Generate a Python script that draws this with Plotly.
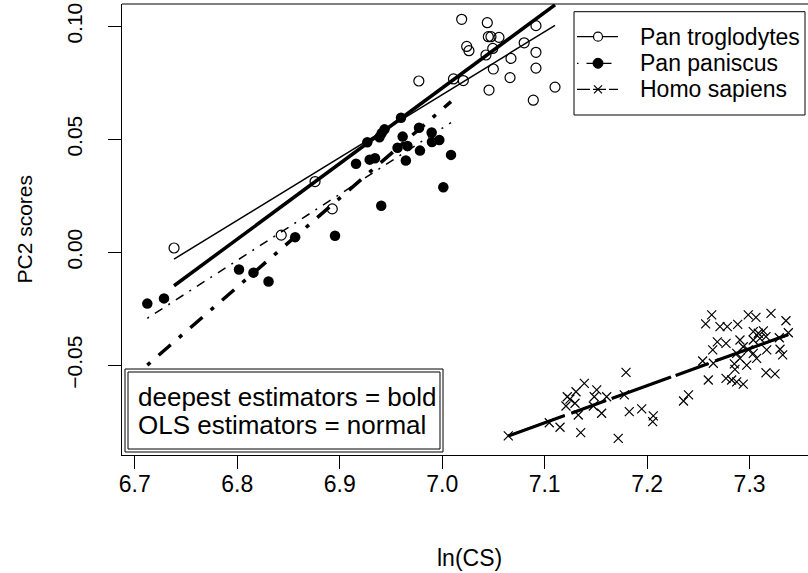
import plotly.graph_objects as go

# ---------------- data ----------------
trog_x = [6.7383, 6.8429, 6.8759, 6.8927, 6.9772, 7.0110, 7.0190, 7.0440, 7.0915,
          7.0450, 7.0476, 7.0554, 7.0239, 7.0261, 7.0493, 7.0800, 7.0427, 7.0915,
          7.0671, 7.0206, 7.0499, 7.0915, 7.0662, 7.0457, 7.1101, 7.0889]
trog_y = [0.0019, 0.0076, 0.0313, 0.0192, 0.0758, 0.0767, 0.1031, 0.1016, 0.1003,
          0.0954, 0.0954, 0.0951, 0.0911, 0.0892, 0.0902, 0.0927, 0.0873, 0.0885,
          0.0858, 0.0760, 0.0811, 0.0815, 0.0773, 0.0718, 0.0731, 0.0673]

pan_x = [6.7122, 6.7285, 6.8017, 6.8158, 6.8305, 6.8565, 6.8954, 6.9405, 6.9159,
         6.9292, 6.9344, 6.9269, 6.9388, 6.9409, 6.9437, 6.9598, 6.9614, 6.9564,
         6.9661, 6.9645, 6.9774, 6.9783, 6.9897, 6.9900, 6.9972, 7.0086, 7.0011]
pan_y = [-0.0227, -0.0204, -0.0076, -0.0090, -0.0129, 0.0067, 0.0073, 0.0206, 0.0392,
         0.0410, 0.0416, 0.0487, 0.0509, 0.0527, 0.0544, 0.0595, 0.0512, 0.0463,
         0.0470, 0.0406, 0.0551, 0.0450, 0.0530, 0.0488, 0.0497, 0.0431, 0.0288]

homo_x = [7.0645, 7.1045, 7.1150, 7.1352, 7.1718, 7.1794, 7.1387, 7.1306, 7.1221,
          7.1247, 7.1208, 7.1296, 7.1328, 7.1508, 7.1484, 7.1605, 7.1475, 7.1556,
          7.1777, 7.1826, 7.1947, 7.2060, 7.2054, 7.2355, 7.2404,
          7.2597, 7.2542, 7.2646, 7.2630, 7.2571, 7.2711, 7.2782, 7.2884, 7.2987,
          7.3062, 7.3209, 7.3355, 7.3378, 7.3290, 7.2685, 7.2770, 7.2640, 7.2906,
          7.2938, 7.3036, 7.3085, 7.3134, 7.3160, 7.3036, 7.3101, 7.3167, 7.2987,
          7.3036, 7.2874, 7.2906, 7.2851, 7.2972, 7.3069, 7.3297, 7.3323, 7.2857,
          7.2770, 7.2825, 7.2874, 7.2938, 7.3160, 7.3248]
homo_y = [-0.0812, -0.0754, -0.0774, -0.0798, -0.0823, -0.0531, -0.0580, -0.0617, -0.0639,
          -0.0650, -0.0680, -0.0668, -0.0720, -0.0609, -0.0639, -0.0639, -0.0680, -0.0712,
          -0.0631, -0.0705, -0.0693, -0.0724, -0.0749, -0.0658, -0.0631,
          -0.0565, -0.0481, -0.0491, -0.0277, -0.0317, -0.0329, -0.0329, -0.0319, -0.0277,
          -0.0288, -0.0270, -0.0303, -0.0356, -0.0378, -0.0396, -0.0403, -0.0432, -0.0388,
          -0.0418, -0.0351, -0.0358, -0.0348, -0.0373, -0.0388, -0.0381, -0.0432, -0.0432,
          -0.0447, -0.0447, -0.0469, -0.0494, -0.0499, -0.0469, -0.0429, -0.0454, -0.0518,
          -0.0558, -0.0565, -0.0573, -0.0583, -0.0533, -0.0538]

# fitted lines (endpoints over each group's x range)
trog_line_x = [6.7383, 7.1101]
trog_ols_y = [-0.0030, 0.1004]
trog_deep_y = [-0.0148, 0.1095]
pan_line_x = [6.7122, 7.0086]
pan_ols_y = [-0.0292, 0.0574]
pan_deep_y = [-0.0499, 0.0667]
homo_line_x = [7.0645, 7.3378]
homo_ols_y = [-0.0810, -0.0367]
homo_deep_y = [-0.0813, -0.0364]

x_ticks = [6.7, 6.8, 6.9, 7.0, 7.1, 7.2, 7.3]
x_ticktext = ["6.7", "6.8", "6.9", "7.0", "7.1", "7.2", "7.3"]
y_ticks = [-0.05, 0.0, 0.05, 0.10]
y_ticktext = ["\u22120.05", "0.00", "0.05", "0.10"]
species = ["Pan troglodytes", "Pan paniscus", "Homo sapiens"]
note_lines = ["deepest estimators = bold", "OLS estimators = normal"]

# ---------------- layout constants ----------------
W, H = 808, 573
ML, MR, MT, MB = 122, 0, 4, 118
PW, PH = W - ML - MR, H - MT - MB
FONT = "Liberation Sans, Arial, Helvetica, sans-serif"
FS = 21
FS_TXT = 23
FS_NOTE = 26
HOMO_DASH = "60px,7px,37px,6px,63px,5px,35px,7px,90px,5px"


def px(x):
    return (x - ML) / PW


def py(y):
    return (H - MB - y) / PH


fig = go.Figure()

# points
fig.add_trace(go.Scatter(x=trog_x, y=trog_y, mode="markers",
                         marker=dict(symbol="circle-open", size=10, color="black",
                                     line=dict(width=1.2, color="black"))))
fig.add_trace(go.Scatter(x=pan_x, y=pan_y, mode="markers",
                         marker=dict(symbol="circle", size=10.5, color="black")))
fig.add_trace(go.Scatter(x=homo_x, y=homo_y, mode="markers",
                         marker=dict(symbol="x-thin-open", size=9, color="black",
                                     line=dict(width=1.2, color="black"))))

# lines
fig.add_trace(go.Scatter(x=trog_line_x, y=trog_ols_y, mode="lines",
                         line=dict(color="black", width=1.5)))
fig.add_trace(go.Scatter(x=trog_line_x, y=trog_deep_y, mode="lines",
                         line=dict(color="black", width=3.5)))
fig.add_trace(go.Scatter(x=pan_line_x, y=pan_ols_y, mode="lines",
                         line=dict(color="black", width=1.5, dash="2px,7px,9px,7px")))
fig.add_trace(go.Scatter(x=pan_line_x, y=pan_deep_y, mode="lines",
                         line=dict(color="black", width=3.5, dash="4px,11px,16px,11px")))
fig.add_trace(go.Scatter(x=homo_line_x, y=homo_ols_y, mode="lines",
                         line=dict(color="black", width=1.5, dash=HOMO_DASH)))
fig.add_trace(go.Scatter(x=homo_line_x, y=homo_deep_y, mode="lines",
                         line=dict(color="black", width=3.2, dash=HOMO_DASH)))

shapes = []
# top frame line (right side of frame lies beyond the window)
shapes.append(dict(type="line", xref="paper", yref="paper", x0=0, x1=1, y0=1, y1=1,
                   line=dict(color="black", width=1)))

# top-right legend
lb = dict(x0=574, x1=805, y0=11.7, y1=115)
shapes.append(dict(type="rect", xref="paper", yref="paper", x0=px(lb["x0"]), x1=px(lb["x1"]),
                   y0=py(lb["y1"]), y1=py(lb["y0"]), line=dict(color="black", width=1)))
rows = [36.7, 63.3, 89.3]
dashes = ["solid", "1.5px,8px,25px,20px", "13px,3px"]
lx0, lx1, sx, tx = 577, 618, 598, 638
for i, name in enumerate(species):
    yy = py(rows[i])
    shapes.append(dict(type="line", xref="paper", yref="paper", x0=px(lx0), x1=px(lx1),
                       y0=yy, y1=yy, line=dict(color="black", width=1.2, dash=dashes[i])))
    fig.add_annotation(x=px(tx), y=yy, xref="paper", yref="paper", text=name,
                       showarrow=False, xanchor="left", yanchor="middle",
                       font=dict(family=FONT, size=FS_TXT, color="black"))
r = 4.5
shapes.append(dict(type="circle", xref="paper", yref="paper", x0=px(sx - r), x1=px(sx + r),
                   y0=py(rows[0] + r), y1=py(rows[0] - r), fillcolor="white",
                   line=dict(color="black", width=1.2)))
shapes.append(dict(type="circle", xref="paper", yref="paper", x0=px(sx - 5), x1=px(sx + 5),
                   y0=py(rows[1] + 5), y1=py(rows[1] - 5), fillcolor="black",
                   line=dict(color="black", width=1)))
for s in (1, -1):
    shapes.append(dict(type="line", xref="paper", yref="paper", x0=px(sx - 4), x1=px(sx + 4),
                       y0=py(rows[2] - 4 * s), y1=py(rows[2] + 4 * s),
                       line=dict(color="black", width=1.2)))

# bottom-left note box (double border)
shapes.append(dict(type="rect", xref="paper", yref="paper", x0=px(125), x1=px(443),
                   y0=py(452), y1=py(369), line=dict(color="black", width=1)))
shapes.append(dict(type="rect", xref="paper", yref="paper", x0=px(128), x1=px(440),
                   y0=py(449), y1=py(372), line=dict(color="black", width=1)))
for i, t in enumerate(note_lines):
    fig.add_annotation(x=px(136), y=py([397, 425][i]), xref="paper", yref="paper", text=t,
                       showarrow=False, xanchor="left", yanchor="middle",
                       font=dict(family=FONT, size=FS_NOTE, color="black"))

# axis titles
fig.add_annotation(x=px((ML + 816) / 2), y=py(558), xref="paper", yref="paper", text="ln(CS)",
                   showarrow=False, xanchor="center", yanchor="middle",
                   font=dict(family=FONT, size=FS_TXT, color="black"))
fig.add_annotation(x=px(24), y=py((MT + H - MB) / 2), xref="paper", yref="paper", text="PC2 scores",
                   showarrow=False, textangle=-90, xanchor="center", yanchor="middle",
                   font=dict(family=FONT, size=FS, color="black"))

fig.update_layout(
    width=W, height=H,
    margin=dict(l=ML, r=MR, t=MT, b=MB, pad=0),
    paper_bgcolor="white", plot_bgcolor="white",
    showlegend=False,
    shapes=shapes,
    font=dict(family=FONT, size=FS, color="black"),
    xaxis=dict(range=[6.6875, 7.3570], tickvals=x_ticks, ticktext=x_ticktext,
               ticks="outside", ticklen=13, tickwidth=1, tickcolor="black",
               ticklabelstandoff=-5,
               showline=True, linecolor="black", linewidth=1, mirror=False,
               showgrid=False, zeroline=False, tickfont=dict(family=FONT, size=FS_TXT)),
    yaxis=dict(range=[-0.08969, 0.10987], tickvals=y_ticks, ticktext=y_ticktext,
               ticks="outside", ticklen=13, tickwidth=1, tickcolor="black", tickangle=-90,
               ticklabelstandoff=18,
               showline=True, linecolor="black", linewidth=1, mirror=False,
               showgrid=False, zeroline=False, tickfont=dict(family=FONT, size=FS)),
)

fig.write_html("out.html")
